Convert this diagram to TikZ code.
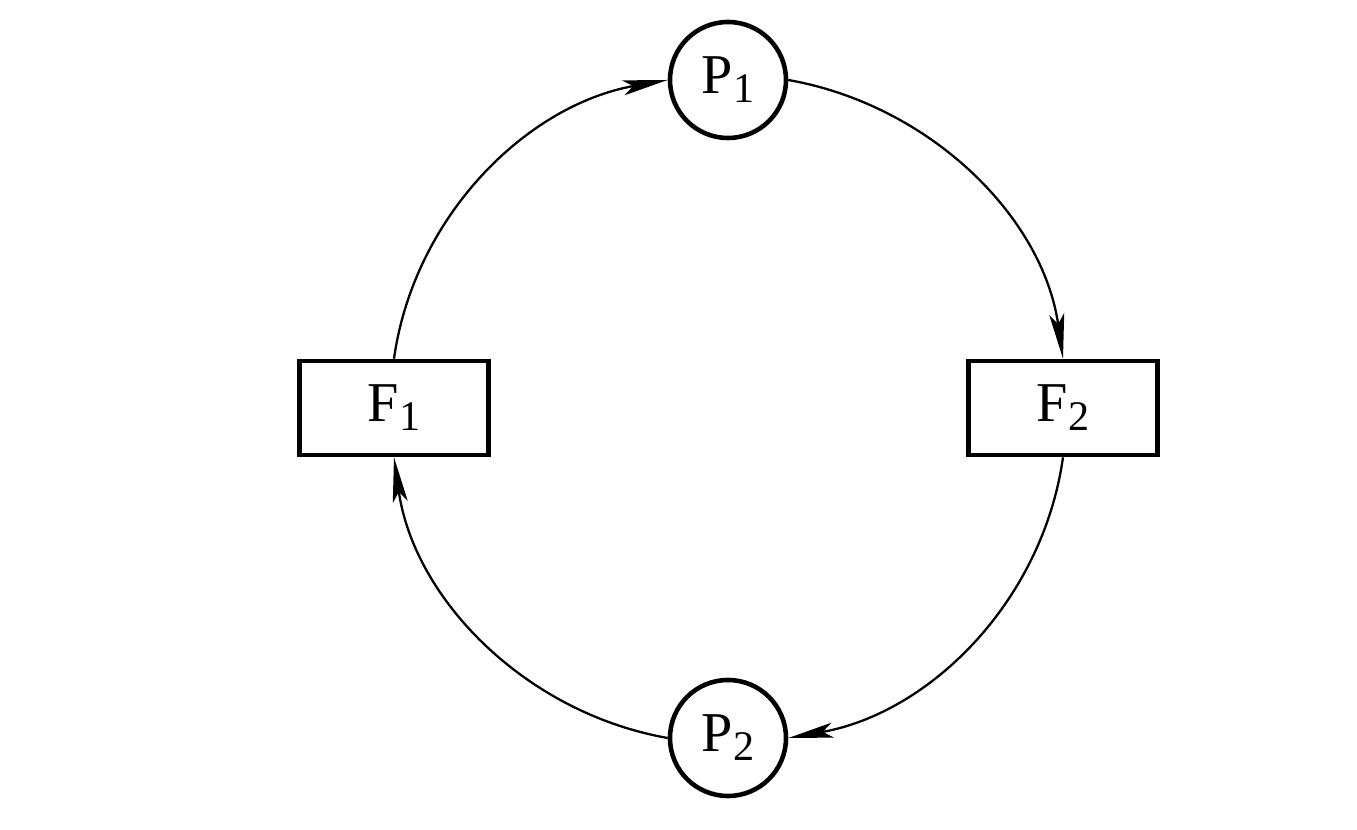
\documentclass[tikz,border=0pt]{standalone}
\usepackage{fontspec}
\setmainfont{Liberation Serif}
\usetikzlibrary{arrows.meta}
\newcommand{\lbl}[2]{#1\raisebox{-0.35ex}{\fontsize{24}{26}\selectfont #2}}

\begin{document}
\begin{tikzpicture}[x=0.2mm,y=0.2mm,font=\fontsize{32}{36}\selectfont,
  place/.style={draw,circle,line width=2.6pt,minimum size=23.2mm,inner sep=0pt},
  trans/.style={draw,rectangle,line width=2.6pt,minimum width=37.8mm,minimum height=18.8mm,inner sep=0pt},
  flow/.style={line width=1.3pt,looseness=0.94,-{Stealth[length=9mm,width=3mm,inset=2mm]}}]
  \useasboundingbox (-728,-422) rectangle (629,408);
  % places and transitions round the loop
  \node[place] (P1) at (0,328) {\lbl{P}{1}};
  \node[place] (P2) at (0,-330) {\lbl{P}{2}};
  \node[trans] (F1) at (-334,0) {\lbl{F}{1}};
  \node[trans] (F2) at (335,0) {\lbl{F}{2}};
  \draw[flow] (F1.north) to[out=82,in=190] (P1.west);
  \draw[flow] (P1.east) to[out=-10,in=98] (F2.north);
  \draw[flow] (F2.south) to[out=-98,in=10] (P2.east);
  \draw[flow] (P2.west) to[out=170,in=-82] (F1.south);
\end{tikzpicture}
\end{document}
